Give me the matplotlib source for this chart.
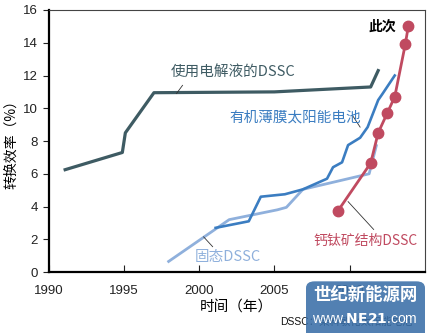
import matplotlib.pyplot as plt
from matplotlib.patches import FancyBboxPatch

plt.rcParams['font.family'] = ['Liberation Sans', 'Noto Sans CJK SC', 'DejaVu Sans']
cjk = ['Noto Sans CJK SC', 'DejaVu Sans']

# electrolyte DSSC
liq_year = [1991.1, 1994.9, 1995.1, 1997.0, 2005.0, 2011.4, 2011.9]
liq_eff = [6.25, 7.3, 8.5, 10.95, 11.0, 11.3, 12.3]

# organic thin film solar cells
opv_year = [2001.1, 2003.3, 2004.1, 2005.7, 2006.9, 2008.5, 2008.9, 2009.5,
            2009.9, 2010.7, 2011.2, 2011.9, 2012.2, 2013.0]
opv_eff = [2.7, 3.1, 4.6, 4.75, 5.05, 5.7, 6.4, 6.7, 7.75, 8.2, 8.85, 10.5,
           10.9, 12.0]

# solid state DSSC
ss_year = [1997.9, 2002.0, 2005.2, 2005.8, 2006.9, 2011.3, 2011.8]
ss_eff = [0.6, 3.2, 3.8, 3.95, 5.05, 6.0, 7.8]

# perovskite DSSC
pv_year = [2009.2, 2011.4, 2011.9, 2012.5, 2013.0, 2013.7, 2013.9]
pv_eff = [3.7, 6.65, 8.5, 9.7, 10.7, 13.9, 15.0]

fig = plt.figure(figsize=(4.3, 3.33), dpi=100)
ax = fig.add_axes([0.113, 0.183, 0.875, 0.787])

ax.plot(ss_year, ss_eff, color='#8fb0dc', lw=2.0, solid_capstyle='butt')
ax.plot(opv_year, opv_eff, color='#3b7dc1', lw=1.9)
ax.plot(liq_year, liq_eff, color='#3e5b63', lw=2.3)
ax.plot(pv_year, pv_eff, color='#c04a60', lw=2.0, marker='o', ms=7.5)

ax.set_xlim(1990, 2015)
ax.set_ylim(0, 16)
ax.set_xticks([1990, 1995, 2000, 2005, 2010])
ax.set_yticks(range(0, 17, 2))
ax.tick_params(axis='x', direction='in', length=5, labelsize=9.5, pad=9, colors='#222222')
ax.tick_params(axis='y', direction='out', length=4, labelsize=9.5, colors='#222222')
for s in ['left', 'bottom']:
    ax.spines[s].set_linewidth(1.6)
for s in ['top', 'right']:
    ax.spines[s].set_linewidth(0.8)
    ax.spines[s].set_color('#444444')

ax.set_ylabel('转换效率（%）', family=cjk, fontsize=10, labelpad=4)
ax.set_xlabel('时间（年）', family=cjk, fontsize=10.5, labelpad=3)

# labels with leader lines
ax.text(1998.1, 12.2, '使用电解液的DSSC', family=cjk, fontsize=10.5, color='#3e5b63', va='center')
ax.plot([1998.5, 1998.9], [10.9, 11.4], color='#333333', lw=0.6)
ax.text(2002.0, 9.45, '有机薄膜太阳能电池', family=cjk, fontsize=10.5, color='#3b7dc1', va='center')
ax.plot([2010.2, 2010.7], [9.55, 8.85], color='#333333', lw=0.6)
ax.text(1999.7, 0.95, '固态DSSC', family=cjk, fontsize=10.5, color='#8fb0dc', va='center')
ax.plot([2000.3, 2000.9], [2.15, 1.55], color='#333333', lw=0.6)
ax.text(2007.6, 1.9, '钙钛矿结构DSSC', family=cjk, fontsize=10, color='#c04a60', va='center')
ax.plot([2009.9, 2011.6], [4.3, 2.6], color='#333333', lw=0.6)
ax.text(2013.1, 15.0, '此次', family=cjk, fontsize=10, color='black', va='center', ha='right',
        fontweight='bold')

# footnote and site badge
fig.text(280 / 430, 1 - 322 / 333, 'DSSC：染料敏化太阳能电池', fontsize=7.5,
         va='center', color='#111111')
badge = FancyBboxPatch((306 / 430, -0.02), 119 / 430, 55 / 333 + 0.01,
                       boxstyle='round,pad=0,rounding_size=0.02', transform=fig.transFigure,
                       facecolor='#3a6fa8', edgecolor='none', alpha=0.88, zorder=5)
fig.add_artist(badge)
fig.text(365 / 430, 1 - 295 / 333, '世纪新能源网', family=cjk, fontsize=12.5, fontweight='bold',
         color='white', ha='center', va='center', zorder=6)
fig.text(365 / 430, 1 - 319 / 333, 'www.$\\bf{NE21}$.com', fontsize=10, color='white',
         ha='center', va='center', zorder=6)

fig.savefig('out.png', dpi=100)
